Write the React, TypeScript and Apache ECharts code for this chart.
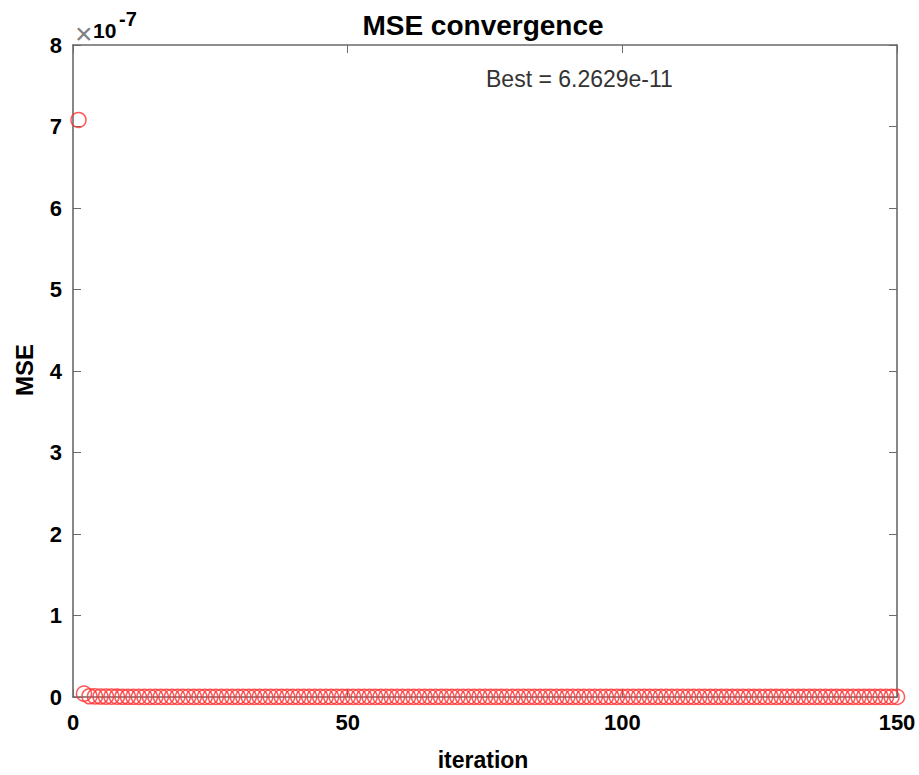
import React, { useEffect, useRef } from "react";
import * as echarts from "echarts";

const titleText = "MSE convergence";
const xName = "iteration";
const yName = "MSE";
const bestText = "Best = 6.2629e-11";
const xTicks = [0, 50, 100, 150];
const yTicks = [0, 1, 2, 3, 4, 5, 6, 7, 8];
const yScale = 1e-7;

const mseValues = [
  7.08e-7, 4.1e-9, 9.3e-10, 7.2e-10, 5.8e-10, 4.9e-10, 4.1e-10, 3.6e-10, 3.2e-10, 2.9e-10,
  2.7e-10, 2.5e-10, 2.3e-10, 2.2e-10, 2.1e-10, 2.0e-10, 1.9e-10, 1.85e-10, 1.8e-10, 1.74e-10,
  1.69e-10, 1.65e-10, 1.6e-10, 1.56e-10, 1.52e-10, 1.49e-10, 1.46e-10, 1.43e-10, 1.4e-10, 1.38e-10,
  1.35e-10, 1.33e-10, 1.31e-10, 1.29e-10, 1.27e-10, 1.25e-10, 1.23e-10, 1.21e-10, 1.2e-10, 1.18e-10,
  1.17e-10, 1.15e-10, 1.14e-10, 1.12e-10, 1.11e-10, 1.1e-10, 1.08e-10, 1.07e-10, 1.06e-10, 1.05e-10,
  1.04e-10, 1.03e-10, 1.02e-10, 1.01e-10, 1.0e-10, 9.9e-11, 9.8e-11, 9.7e-11, 9.6e-11, 9.5e-11,
  9.4e-11, 9.3e-11, 9.2e-11, 9.1e-11, 9.0e-11, 8.95e-11, 8.9e-11, 8.8e-11, 8.7e-11, 8.65e-11,
  8.6e-11, 8.5e-11, 8.45e-11, 8.4e-11, 8.3e-11, 8.25e-11, 8.2e-11, 8.1e-11, 8.05e-11, 8.0e-11,
  7.95e-11, 7.9e-11, 7.85e-11, 7.8e-11, 7.75e-11, 7.7e-11, 7.65e-11, 7.6e-11, 7.55e-11, 7.5e-11,
  7.46e-11, 7.42e-11, 7.38e-11, 7.34e-11, 7.3e-11, 7.26e-11, 7.22e-11, 7.18e-11, 7.14e-11, 7.1e-11,
  7.07e-11, 7.04e-11, 7.01e-11, 6.98e-11, 6.95e-11, 6.92e-11, 6.89e-11, 6.86e-11, 6.84e-11, 6.82e-11,
  6.8e-11, 6.78e-11, 6.76e-11, 6.74e-11, 6.72e-11, 6.7e-11, 6.68e-11, 6.66e-11, 6.64e-11, 6.62e-11,
  6.6e-11, 6.58e-11, 6.57e-11, 6.55e-11, 6.54e-11, 6.52e-11, 6.51e-11, 6.5e-11, 6.48e-11, 6.47e-11,
  6.46e-11, 6.45e-11, 6.43e-11, 6.42e-11, 6.41e-11, 6.4e-11, 6.39e-11, 6.38e-11, 6.37e-11, 6.36e-11,
  6.35e-11, 6.34e-11, 6.33e-11, 6.32e-11, 6.31e-11, 6.3e-11, 6.29e-11, 6.28e-11, 6.27e-11, 6.2629e-11,
];

const FONT = "'Liberation Sans', Arial, Helvetica, sans-serif";
const AXIS_COLOR = "#6a6a6a";

export default function App() {
  const ref = useRef<HTMLDivElement>(null);

  useEffect(() => {
    if (!ref.current) return;
    const chart = echarts.init(ref.current, null, { renderer: "svg" });
    const data = mseValues.map((v, i) => [i + 1, v / yScale]);
    const xMin = xTicks[0];
    const xMax = xTicks[xTicks.length - 1];
    const xInt = xTicks[1] - xTicks[0];
    const yMin = yTicks[0];
    const yMax = yTicks[yTicks.length - 1];
    const yInt = yTicks[1] - yTicks[0];

    const axisCommon = {
      type: "value" as const,
      splitLine: { show: false },
      axisLine: { show: true, onZero: false, lineStyle: { color: AXIS_COLOR, width: 1.6 } },
      axisTick: { show: true, inside: true, length: 8, lineStyle: { color: AXIS_COLOR, width: 1 } },
    };

    chart.setOption({
      animation: false,
      backgroundColor: "#ffffff",
      grid: { left: 73, right: 22, top: 45, bottom: 78, containLabel: false },
      xAxis: [
        {
          ...axisCommon,
          position: "bottom",
          min: xMin,
          max: xMax,
          interval: xInt,
          axisLabel: {
            show: true,
            color: "#000",
            fontFamily: FONT,
            fontWeight: "bold",
            fontSize: 22,
            margin: 14,
          },
        },
        {
          ...axisCommon,
          position: "top",
          min: xMin,
          max: xMax,
          interval: xInt,
          axisLabel: { show: false },
        },
      ],
      yAxis: [
        {
          ...axisCommon,
          position: "left",
          min: yMin,
          max: yMax,
          interval: yInt,
          axisLabel: {
            show: true,
            color: "#000",
            fontFamily: FONT,
            fontWeight: "bold",
            fontSize: 22,
            margin: 11,
            formatter: (v: number) => String(Math.round(v)),
          },
        },
        {
          ...axisCommon,
          position: "right",
          min: yMin,
          max: yMax,
          interval: yInt,
          axisLabel: { show: false },
        },
      ],
      series: [
        {
          type: "scatter",
          xAxisIndex: 0,
          yAxisIndex: 0,
          data,
          symbol: "circle",
          symbolSize: 15,
          clip: false,
          itemStyle: {
            color: "rgba(255,255,255,0)",
            borderColor: "#ff3030",
            borderWidth: 1.5,
          },
        },
      ],
      graphic: [
        {
          type: "text",
          x: 483,
          y: 25,
          style: {
            text: titleText,
            fontFamily: FONT,
            fontWeight: "bold",
            fontSize: 28,
            fill: "#000",
            textAlign: "center",
            textVerticalAlign: "middle",
          },
        },
        {
          type: "text",
          x: 483,
          y: 760,
          style: {
            text: xName,
            fontFamily: FONT,
            fontWeight: "bold",
            fontSize: 23,
            fill: "#000",
            textAlign: "center",
            textVerticalAlign: "middle",
          },
        },
        {
          type: "text",
          x: 24,
          y: 370,
          rotation: Math.PI / 2,
          style: {
            text: yName,
            fontFamily: FONT,
            fontWeight: "bold",
            fontSize: 24,
            fill: "#000",
            textAlign: "center",
            textVerticalAlign: "middle",
          },
        },
        {
          type: "text",
          x: 75,
          y: 33,
          style: {
            text: "×",
            fontFamily: FONT,
            fontSize: 30,
            fill: "#808080",
            textAlign: "left",
            textVerticalAlign: "middle",
          },
        },
        {
          type: "text",
          x: 93,
          y: 30,
          style: {
            text: "10",
            fontFamily: FONT,
            fontWeight: "bold",
            fontSize: 21,
            fill: "#000",
            textAlign: "left",
            textVerticalAlign: "middle",
          },
        },
        {
          type: "text",
          x: 119,
          y: 19,
          style: {
            text: "-7",
            fontFamily: FONT,
            fontWeight: "bold",
            fontSize: 20,
            fill: "#000",
            textAlign: "left",
            textVerticalAlign: "middle",
          },
        },
        {
          type: "text",
          x: 486,
          y: 79,
          style: {
            text: bestText,
            fontFamily: FONT,
            fontSize: 23,
            fill: "#333",
            textAlign: "left",
            textVerticalAlign: "middle",
          },
        },
      ],
    });

    return () => {
      chart.dispose();
    };
  }, []);

  return (
    <div
      ref={ref}
      style={{ position: "fixed", left: 0, top: 0, width: 919, height: 775, background: "#fff" }}
    />
  );
}
